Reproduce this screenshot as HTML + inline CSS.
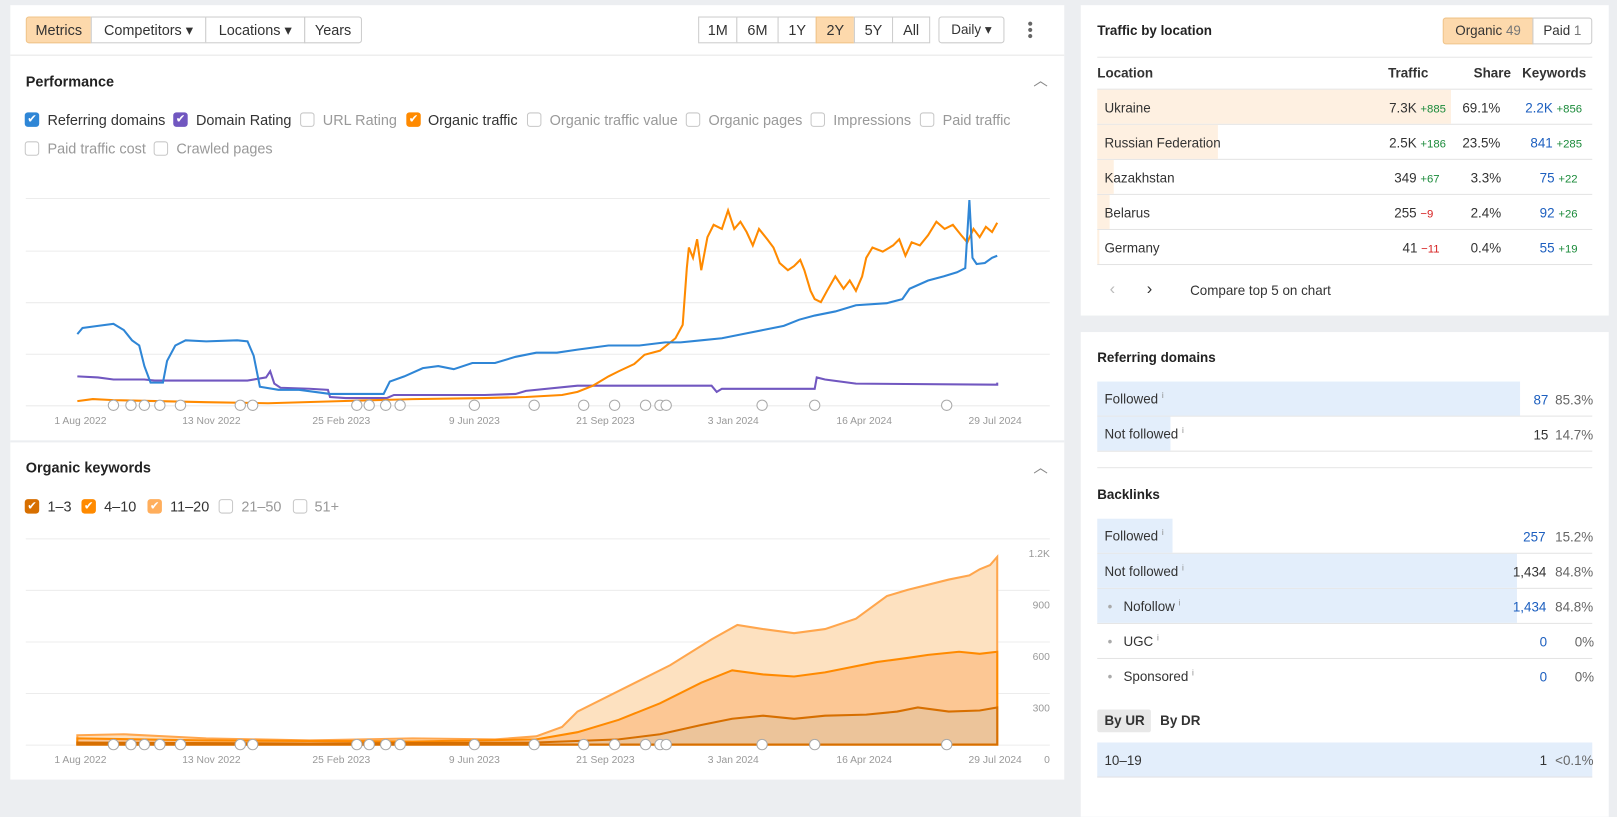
<!DOCTYPE html>
<html><head><meta charset="utf-8"><style>
*{box-sizing:border-box;margin:0;padding:0}
html,body{width:1617px;height:789px;overflow:hidden;background:#eceef1}
#w{position:absolute;left:0;top:0;width:1568px;height:766px;transform:scale(1.03125);transform-origin:0 0;font-family:"Liberation Sans",sans-serif;font-size:14px;color:#333}
.a{position:absolute;white-space:nowrap}
.card{position:absolute;background:#fff}
.btn{position:absolute;height:26px;border:1px solid #ccc;background:#fff;line-height:24px;padding:0 8px;font-size:14px;color:#333;white-space:nowrap;text-align:center}
.sel{background:#fdd9ac;border-color:#f0c48a}
.cb{position:absolute;width:14px;height:14px;border:1px solid #c8c8c8;border-radius:3px;background:#fff}
.cb.on{border:none;color:#fff;font-size:11px;line-height:14px;text-align:center}
.lbl{position:absolute;font-size:14px;white-space:nowrap}
.g{color:#999}
.h{font-weight:bold;font-size:14px;color:#222}
.row{position:absolute;left:1064px;width:480px;height:34px;border-bottom:1px solid #e3e3e3}
.bar{position:absolute;left:0;top:0;height:33px}
.up{color:#1a8a3a;font-size:11px}.dn{color:#d61f1f;font-size:11px}
.bl{color:#1d5fbf}
</style></head><body><div id="w">
<div class="card" style="left:10px;top:5px;width:1022px;height:751px"></div>
<div class="a" style="left:10px;top:53px;width:1022px;height:1px;background:#e6e6e6"></div>
<div class="a" style="left:10px;top:427px;width:1022px;height:2px;background:#eceef1"></div>

<div class="btn sel" style="left:25px;top:16px;width:64px;border-radius:3px 0 0 3px">Metrics</div>
<div class="btn" style="left:88px;top:16px;width:112px">Competitors ▾</div>
<div class="btn" style="left:199px;top:16px;width:97px">Locations ▾</div>
<div class="btn" style="left:295px;top:16px;width:56px;border-radius:0 3px 3px 0">Years</div>
<div class="btn" style="left:677px;top:16px;width:38px">1M</div>
<div class="btn" style="left:714px;top:16px;width:41px">6M</div>
<div class="btn" style="left:754px;top:16px;width:38px">1Y</div>
<div class="btn sel" style="left:791px;top:16px;width:38px">2Y</div>
<div class="btn" style="left:828px;top:16px;width:38px">5Y</div>
<div class="btn" style="left:865px;top:16px;width:37px">All</div>
<div class="btn" style="left:910px;top:16px;width:64px;border-radius:3px;font-size:13px;padding:0 4px">Daily ▾</div>
<div class="a" style="left:997px;top:21px;width:4px">
<div style="width:4px;height:4px;border-radius:2px;background:#666;margin-bottom:2px"></div><div style="width:4px;height:4px;border-radius:2px;background:#666;margin-bottom:2px"></div><div style="width:4px;height:4px;border-radius:2px;background:#666"></div></div>

<div class="a h" style="left:25px;top:71px">Performance</div>
<div class="a" style="left:1002px;top:68px;color:#888">︿</div>
<div class="cb on" style="left:24px;top:109px;background:#2f86d6">✔</div><div class="lbl" style="left:46px;top:108px">Referring domains</div>
<div class="cb on" style="left:168px;top:109px;background:#7157c0">✔</div><div class="lbl" style="left:190px;top:108px">Domain Rating</div>
<div class="cb" style="left:291px;top:109px"></div><div class="lbl g" style="left:313px;top:108px">URL Rating</div>
<div class="cb on" style="left:394px;top:109px;background:#ff8a00">✔</div><div class="lbl" style="left:415px;top:108px">Organic traffic</div>
<div class="cb" style="left:511px;top:109px"></div><div class="lbl g" style="left:533px;top:108px">Organic traffic value</div>
<div class="cb" style="left:665px;top:109px"></div><div class="lbl g" style="left:687px;top:108px">Organic pages</div>
<div class="cb" style="left:786px;top:109px"></div><div class="lbl g" style="left:808px;top:108px">Impressions</div>
<div class="cb" style="left:892px;top:109px"></div><div class="lbl g" style="left:914px;top:108px">Paid traffic</div>
<div class="cb" style="left:24px;top:137px"></div><div class="lbl g" style="left:46px;top:136px">Paid traffic cost</div>
<div class="cb" style="left:149px;top:137px"></div><div class="lbl g" style="left:171px;top:136px">Crawled pages</div>

<svg class="a" style="left:0;top:0" width="1040" height="766">
<defs><g id="ann"><circle cx="110" cy="393" r="5"/><circle cx="127" cy="393" r="5"/><circle cx="140" cy="393" r="5"/><circle cx="155" cy="393" r="5"/><circle cx="175" cy="393" r="5"/><circle cx="233" cy="393" r="5"/><circle cx="245" cy="393" r="5"/><circle cx="346" cy="393" r="5"/><circle cx="358" cy="393" r="5"/><circle cx="374" cy="393" r="5"/><circle cx="388" cy="393" r="5"/><circle cx="460" cy="393" r="5"/><circle cx="518" cy="393" r="5"/><circle cx="566" cy="393" r="5"/><circle cx="596" cy="393" r="5"/><circle cx="626" cy="393" r="5"/><circle cx="640" cy="393" r="5"/><circle cx="646" cy="393" r="5"/><circle cx="739" cy="393" r="5"/><circle cx="790" cy="393" r="5"/><circle cx="918" cy="393" r="5"/></g></defs>
<g stroke="#ececec" stroke-width="1">
<line x1="25" x2="1018" y1="192.5" y2="192.5"/><line x1="25" x2="1018" y1="243.5" y2="243.5"/><line x1="25" x2="1018" y1="293.5" y2="293.5"/><line x1="25" x2="1018" y1="343.5" y2="343.5"/><line x1="25" x2="1018" y1="393.5" y2="393.5"/>
<line x1="25" x2="1018" y1="522.5" y2="522.5"/><line x1="25" x2="1018" y1="572.5" y2="572.5"/><line x1="25" x2="1018" y1="622.5" y2="622.5"/><line x1="25" x2="1018" y1="672.5" y2="672.5"/><line x1="25" x2="1018" y1="722.5" y2="722.5"/>
</g>
<polyline fill="none" stroke="#7157c0" stroke-width="2" points="75,365 95,366 110,368 140,368 150,369 240,369 258,366 262,360 266,372 272,376 300,377 318,378 320,385 335,386 375,386 382,383 420,383 470,383 500,382 510,379 560,374 600,374 690,374 695,380 700,377 740,377 790,377 792,366 800,368 830,372 967,373 967,371"/>
<polyline fill="none" stroke="#ff8a00" stroke-width="2" points="75,389 90,387 110,388 200,390 260,391 330,389 400,387 470,386 510,385 545,383 560,380 575,374 590,365 600,360 615,353 625,344 640,340 655,328 662,315 666,260 668,240 672,250 676,232 680,262 686,230 692,218 700,222 706,204 712,222 718,215 724,225 730,238 736,222 744,232 750,240 756,255 764,262 770,258 776,252 780,262 786,282 790,290 796,293 802,282 810,268 818,280 824,272 830,282 836,268 840,250 846,240 856,244 866,238 872,232 878,248 884,235 892,238 900,228 908,215 916,222 924,218 932,228 938,235 944,222 950,230 956,220 962,225 967,216"/>
<polyline fill="none" stroke="#2f86d6" stroke-width="2" points="75,324 80,318 95,316 110,314 120,320 128,330 135,335 140,355 146,371 158,371 162,350 170,335 180,330 200,331 230,330 240,331 246,345 252,375 270,378 290,378 320,382 350,382 372,382 378,370 392,365 410,357 425,355 440,358 458,352 480,352 500,346 520,342 540,342 560,339 590,335 620,335 645,332 660,332 680,330 700,328 720,324 740,320 760,316 775,310 790,306 810,302 830,296 860,294 875,290 882,280 900,272 915,268 928,264 936,260 940,194 943,250 947,256 955,255 962,250 967,248"/>
<polygon fill="#fde1c0" stroke="#ffa64d" stroke-width="2" points="75,713 120,712 200,716 300,718 400,716 480,717 520,714 545,705 560,690 600,670 650,645 690,620 715,606 740,610 770,614 800,610 830,600 860,578 880,572 920,562 940,558 950,552 960,548 967,540 967,722 75,722"/>
<polygon fill="#fcc794" stroke="#ff8a00" stroke-width="2" points="75,716 200,718 400,719 520,717 560,710 600,698 640,682 680,662 710,650 740,654 770,656 800,652 820,648 850,642 880,638 900,635 930,632 950,634 967,632 967,722 75,722"/>
<polygon fill="#ecc49a" stroke="#d76f00" stroke-width="2" points="75,720 300,721 520,720 600,717 640,712 680,703 710,697 740,694 770,697 800,694 840,693 870,690 890,686 920,690 950,689 967,686 967,722 75,722"/>
<g fill="#fff" stroke="#aaa"><use href="#ann"/><use href="#ann" y="329"/></g>
<g fill="#999" font-size="10" font-family="Liberation Sans" text-anchor="middle">
<text x="78" y="411">1 Aug 2022</text><text x="205" y="411">13 Nov 2022</text><text x="331" y="411">25 Feb 2023</text><text x="460" y="411">9 Jun 2023</text><text x="587" y="411">21 Sep 2023</text><text x="711" y="411">3 Jan 2024</text><text x="838" y="411">16 Apr 2024</text><text x="965" y="411">29 Jul 2024</text>
<text x="78" y="740">1 Aug 2022</text><text x="205" y="740">13 Nov 2022</text><text x="331" y="740">25 Feb 2023</text><text x="460" y="740">9 Jun 2023</text><text x="587" y="740">21 Sep 2023</text><text x="711" y="740">3 Jan 2024</text><text x="838" y="740">16 Apr 2024</text><text x="965" y="740">29 Jul 2024</text>
</g>
<g fill="#999" font-size="10" font-family="Liberation Sans" text-anchor="end">
<text x="1018" y="540">1.2K</text><text x="1018" y="590">900</text><text x="1018" y="640">600</text><text x="1018" y="690">300</text><text x="1018" y="740">0</text>
</g>
</svg>

<div class="a h" style="left:25px;top:445px">Organic keywords</div>
<div class="a" style="left:1002px;top:443px;color:#888">︿</div>
<div class="cb on" style="left:24px;top:484px;background:#d76f00">✔</div><div class="lbl" style="left:46px;top:483px">1–3</div>
<div class="cb on" style="left:79px;top:484px;background:#ff8a00">✔</div><div class="lbl" style="left:101px;top:483px">4–10</div>
<div class="cb on" style="left:143px;top:484px;background:#ffae5c">✔</div><div class="lbl" style="left:165px;top:483px">11–20</div>
<div class="cb" style="left:212px;top:484px"></div><div class="lbl g" style="left:234px;top:483px">21–50</div>
<div class="cb" style="left:284px;top:484px"></div><div class="lbl g" style="left:305px;top:483px">51+</div>

<div class="card" style="left:1048px;top:5px;width:512px;height:301px"></div>
<div class="a h" style="left:1064px;top:22px;font-size:13px">Traffic by location</div>
<div class="btn sel" style="left:1399px;top:17px;width:88px;border-radius:3px 0 0 3px;font-size:13px;padding:0">Organic <span style="color:#777">49</span></div>
<div class="btn" style="left:1486px;top:17px;width:58px;border-radius:0 3px 3px 0;font-size:13px;padding:0">Paid <span style="color:#777">1</span></div>
<div class="a" style="left:1064px;top:55px;width:480px;height:1px;background:#e6e6e6"></div>
<div class="a" style="left:1064px;top:63px;font-size:13px;font-weight:bold;color:#333">Location</div>
<div class="a" style="left:1346px;top:63px;font-size:13px;font-weight:bold;color:#333">Traffic</div>
<div class="a" style="left:1429px;top:63px;font-size:13px;font-weight:bold;color:#333">Share</div>
<div class="a" style="left:1476px;top:63px;font-size:13px;font-weight:bold;color:#333">Keywords</div>
<div class="a" style="left:1064px;top:86px;width:480px;height:1px;background:#e3e3e3"></div>
<div class="row" style="top:87px"><div class="bar" style="width:343px;background:#fef0e1"></div></div>
<div class="row" style="top:121px"><div class="bar" style="width:117px;background:#fef0e1"></div></div>
<div class="row" style="top:155px"><div class="bar" style="width:16px;background:#fef0e1"></div></div>
<div class="row" style="top:189px"><div class="bar" style="width:12px;background:#fef0e1"></div></div>
<div class="row" style="top:223px"><div class="bar" style="width:2px;background:#fef0e1"></div></div>
<div style="font-size:13px">
<div class="a" style="left:1071px;top:97px">Ukraine</div>
<div class="a" style="left:1071px;top:131px">Russian Federation</div>
<div class="a" style="left:1071px;top:165px">Kazakhstan</div>
<div class="a" style="left:1071px;top:199px">Belarus</div>
<div class="a" style="left:1071px;top:233px">Germany</div>
<div class="a" style="left:1347px;top:97px">7.3K <span class="up">+885</span></div>
<div class="a" style="left:1347px;top:131px">2.5K <span class="up">+186</span></div>
<div class="a" style="left:1352px;top:165px">349 <span class="up">+67</span></div>
<div class="a" style="left:1352px;top:199px">255 <span class="dn">−9</span></div>
<div class="a" style="left:1360px;top:233px">41 <span class="dn">−11</span></div>
<div class="a" style="left:1418px;top:97px">69.1%</div>
<div class="a" style="left:1418px;top:131px">23.5%</div>
<div class="a" style="left:1426px;top:165px">3.3%</div>
<div class="a" style="left:1426px;top:199px">2.4%</div>
<div class="a" style="left:1426px;top:233px">0.4%</div>
<div class="a" style="left:1479px;top:97px"><span class="bl">2.2K</span> <span class="up">+856</span></div>
<div class="a" style="left:1484px;top:131px"><span class="bl">841</span> <span class="up">+285</span></div>
<div class="a" style="left:1493px;top:165px"><span class="bl">75</span> <span class="up">+22</span></div>
<div class="a" style="left:1493px;top:199px"><span class="bl">92</span> <span class="up">+26</span></div>
<div class="a" style="left:1493px;top:233px"><span class="bl">55</span> <span class="up">+19</span></div>
<div class="a" style="left:1076px;top:272px;color:#bbb;font-size:16px">‹</div>
<div class="a" style="left:1112px;top:272px;color:#333;font-size:16px">›</div>
<div class="a" style="left:1154px;top:274px">Compare top 5 on chart</div>
</div>

<div class="card" style="left:1048px;top:322px;width:512px;height:470px"></div>
<div style="font-size:13px">
<div class="a h" style="left:1064px;top:339px;font-size:13px">Referring domains</div>
<div class="row" style="top:370px"><div class="bar" style="width:410px;background:#e3eefb"></div></div>
<div class="row" style="top:404px"><div class="bar" style="width:71px;background:#e3eefb"></div></div>
<div class="a" style="left:1071px;top:379px">Followed <sup style="font-size:8px;color:#888">i</sup></div>
<div class="a" style="left:1071px;top:413px">Not followed <sup style="font-size:8px;color:#888">i</sup></div>
<div class="a bl" style="left:1487px;top:380px">87</div><div class="a" style="left:1508px;top:380px;color:#666">85.3%</div>
<div class="a" style="left:1487px;top:414px">15</div><div class="a" style="left:1508px;top:414px;color:#666">14.7%</div>
<div class="a" style="left:1064px;top:453px;width:480px;height:1px;background:#e6e6e6"></div>
<div class="a h" style="left:1064px;top:472px;font-size:13px">Backlinks</div>
<div class="row" style="top:503px"><div class="bar" style="width:73px;background:#e3eefb"></div></div>
<div class="row" style="top:537px"><div class="bar" style="width:407px;background:#e3eefb"></div></div>
<div class="row" style="top:571px"><div class="bar" style="width:407px;background:#e3eefb"></div></div>
<div class="row" style="top:605px"></div>
<div class="row" style="top:639px;border:none"></div>
<div class="a" style="left:1071px;top:512px">Followed <sup style="font-size:8px;color:#888">i</sup></div>
<div class="a" style="left:1071px;top:546px">Not followed <sup style="font-size:8px;color:#888">i</sup></div>
<div class="a" style="left:1074px;top:580px"><span style="color:#aaa">•</span>&nbsp;&nbsp; Nofollow <sup style="font-size:8px;color:#888">i</sup></div>
<div class="a" style="left:1074px;top:614px"><span style="color:#aaa">•</span>&nbsp;&nbsp; UGC <sup style="font-size:8px;color:#888">i</sup></div>
<div class="a" style="left:1074px;top:648px"><span style="color:#aaa">•</span>&nbsp;&nbsp; Sponsored <sup style="font-size:8px;color:#888">i</sup></div>
<div class="a bl" style="left:1477px;top:513px">257</div><div class="a" style="left:1508px;top:513px;color:#666">15.2%</div>
<div class="a" style="left:1467px;top:547px">1,434</div><div class="a" style="left:1508px;top:547px;color:#666">84.8%</div>
<div class="a bl" style="left:1467px;top:581px">1,434</div><div class="a" style="left:1508px;top:581px;color:#666">84.8%</div>
<div class="a bl" style="left:1493px;top:615px">0</div><div class="a" style="left:1527px;top:615px;color:#666">0%</div>
<div class="a bl" style="left:1493px;top:649px">0</div><div class="a" style="left:1527px;top:649px;color:#666">0%</div>
<div class="a" style="left:1064px;top:688px;width:52px;height:22px;background:#e8e8e8;border-radius:2px"></div>
<div class="a" style="left:1071px;top:691px;font-weight:bold">By UR</div>
<div class="a" style="left:1125px;top:691px;font-weight:bold">By DR</div>
<div class="row" style="top:720px;background:#e3eefb"></div>
<div class="a" style="left:1071px;top:730px">10–19</div>
<div class="a" style="left:1493px;top:730px">1</div><div class="a" style="left:1508px;top:730px;color:#666">&lt;0.1%</div>
</div>
</div></body></html>
